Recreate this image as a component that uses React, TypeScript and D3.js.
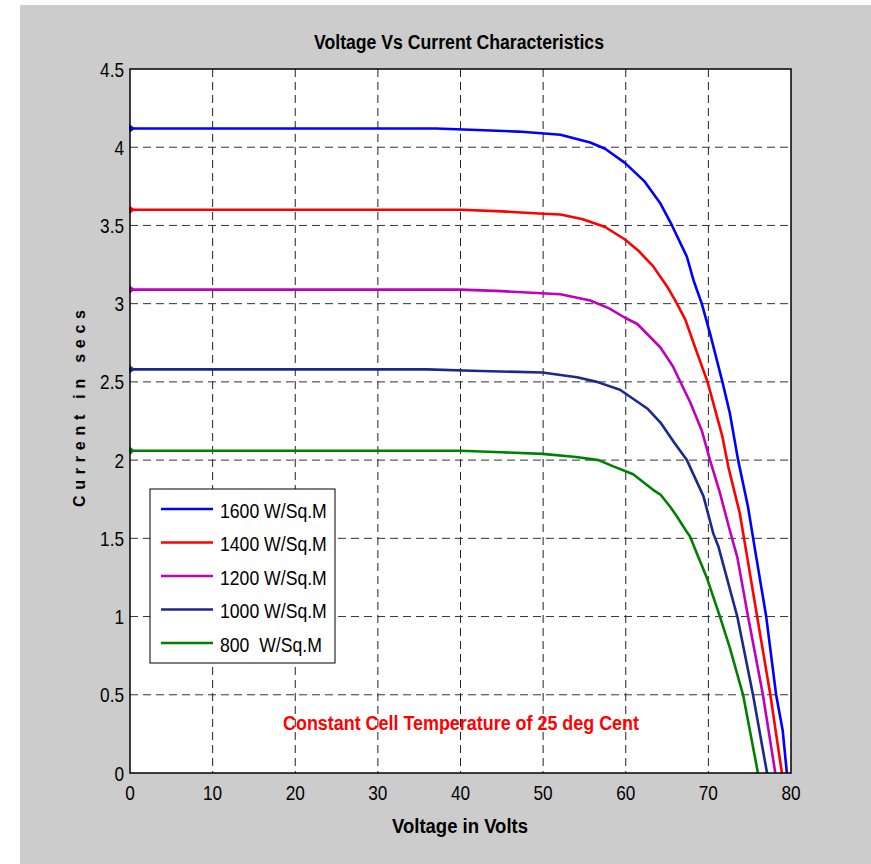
import React from "react";
import * as d3 from "d3";

// ---- data ----
const xTicks = [0, 10, 20, 30, 40, 50, 60, 70, 80];
const yTicks = [0, 0.5, 1, 1.5, 2, 2.5, 3, 3.5, 4, 4.5];
const yTickLabels = ["0", "0.5", "1", "1.5", "2", "2.5", "3", "3.5", "4", "4.5"];

const v1600 = [0, 10, 20, 30, 37, 42, 47, 52.1, 55.7, 57.5, 59.9, 62.3, 64.2, 65.6, 67.4, 68.2, 69.2, 70.2, 71.7, 72.6, 73.6, 74.8, 75.7, 77.0, 78.2, 79.0, 79.5];
const i1600 = [4.12, 4.12, 4.12, 4.12, 4.12, 4.11, 4.10, 4.08, 4.03, 3.99, 3.90, 3.78, 3.64, 3.50, 3.30, 3.15, 3.00, 2.81, 2.50, 2.30, 2.00, 1.70, 1.41, 1.00, 0.50, 0.27, 0];

const v1400 = [0, 10, 20, 30, 40, 45, 50, 52.1, 54.8, 57.5, 59.9, 61.5, 63.3, 65.0, 66.0, 67.2, 68.4, 69.9, 71.7, 72.4, 73.8, 74.7, 75.9, 77.5, 78.9];
const i1400 = [3.60, 3.60, 3.60, 3.60, 3.60, 3.59, 3.575, 3.57, 3.54, 3.49, 3.41, 3.34, 3.24, 3.11, 3.02, 2.90, 2.72, 2.50, 2.15, 1.96, 1.66, 1.38, 1.00, 0.50, 0];

const v1200 = [0, 10, 20, 30, 40, 45, 52.1, 55.7, 58, 59.9, 61.4, 64.2, 65.7, 67.8, 69.2, 70.2, 71.4, 72.6, 73.5, 74.8, 76.6, 78.1];
const i1200 = [3.09, 3.09, 3.09, 3.09, 3.09, 3.08, 3.06, 3.02, 2.97, 2.91, 2.87, 2.72, 2.60, 2.37, 2.19, 2.00, 1.79, 1.55, 1.38, 1.00, 0.50, 0];

const v1000 = [0, 10, 20, 30, 36, 42.4, 49.9, 54.1, 56.5, 59.3, 62.6, 64.2, 65.9, 67.4, 69.4, 70.6, 71.2, 73.5, 75.4, 77.1];
const i1000 = [2.58, 2.58, 2.58, 2.58, 2.58, 2.57, 2.56, 2.53, 2.50, 2.45, 2.33, 2.24, 2.11, 2.00, 1.77, 1.53, 1.45, 1.00, 0.50, 0];

const v800 = [0, 10, 20, 30, 40, 45, 49.9, 54, 56.7, 58.5, 60.9, 63.3, 64.2, 65.4, 66.2, 67.4, 67.8, 68.4, 69.8, 71.4, 72.6, 74.2, 76.0];
const i800 = [2.06, 2.06, 2.06, 2.06, 2.06, 2.05, 2.04, 2.02, 2.00, 1.96, 1.91, 1.81, 1.78, 1.70, 1.64, 1.54, 1.51, 1.43, 1.25, 1.00, 0.80, 0.50, 0];

const seriesLabels = ["1600 W/Sq.M", "1400 W/Sq.M", "1200 W/Sq.M", "1000 W/Sq.M", "800  W/Sq.M"];
const seriesColors = ["#0000ff", "#ff0000", "#bf00bf", "#1a2a8c", "#008000"];
const seriesV = [v1600, v1400, v1200, v1000, v800];
const seriesI = [i1600, i1400, i1200, i1000, i800];

// ---- layout ----
const W = 871;
const H = 864;
const L = 130, R = 791, T = 69, B = 773;
const FONT = "'Liberation Sans', Arial, Helvetica, sans-serif";

function NText(props: any) {
  const { x, y, sx = 0.82, anchor = "start", size = 21, weight = "normal", fill = "#000", children } = props;
  return (
    <text
      transform={`translate(${x},${y}) scale(${sx},1)`}
      textAnchor={anchor}
      fontSize={size}
      fontWeight={weight}
      fill={fill}
      fontFamily={FONT}
      style={{ whiteSpace: "pre" }}
    >
      {children}
    </text>
  );
}

export default function App() {
  const x = d3.scaleLinear().domain([0, 80]).range([L, R]);
  const y = d3.scaleLinear().domain([0, 4.5]).range([B, T]);
  const line = d3
    .line<[number, number]>()
    .x((d) => x(d[0]))
    .y((d) => y(d[1]))
    .curve(d3.curveLinear);

  const legendX = 150, legendY = 489, legendW = 185, legendH = 174;

  return (
    <svg width={W} height={H} style={{ position: "absolute", left: 0, top: 0 }}>
      <rect x={0} y={0} width={W} height={H} fill="#ffffff" />
      <rect x={20} y={5} width={W - 20} height={H - 5} fill="#cccccc" />
      <rect x={L} y={T} width={R - L} height={B - T} fill="#ffffff" />

      {/* grid */}
      {xTicks.slice(1, -1).map((t) => (
        <line key={"gx" + t} x1={x(t)} x2={x(t)} y1={T} y2={B} stroke="#222" strokeWidth={1} strokeDasharray="8,5" />
      ))}
      {yTicks.slice(1, -1).map((t) => (
        <line key={"gy" + t} x1={L} x2={R} y1={y(t)} y2={y(t)} stroke="#333" strokeWidth={1} strokeDasharray="8,5" />
      ))}

      {/* curves */}
      {seriesV.map((vs, k) => {
        const pts: [number, number][] = vs.map((v, j) => [v, seriesI[k][j]]);
        return (
          <g key={"s" + k}>
            <path d={line(pts) || ""} fill="none" stroke={seriesColors[k]} strokeWidth={2.6} strokeLinejoin="round" />
            <path
              d={`M${x(0)},${y(pts[0][1]) - 4} L${x(0) - 1},${y(pts[0][1])} L${x(0)},${y(pts[0][1]) + 4} L${x(0) + 5},${y(pts[0][1])} Z`}
              fill={seriesColors[k]}
            />
          </g>
        );
      })}

      {/* axes frame */}
      <rect x={L} y={T} width={R - L} height={B - T} fill="none" stroke="#000" strokeWidth={1.5} />

      {/* tick labels */}
      {xTicks.map((t) => (
        <NText key={"xl" + t} x={x(t)} y={800} anchor="middle" sx={0.82}>
          {String(t)}
        </NText>
      ))}
      {yTicks.map((t, j) => (
        <NText key={"yl" + t} x={L - 6} y={y(t) + 7.5} anchor="end" sx={0.82}>
          {yTickLabels[j]}
        </NText>
      ))}

      {/* title and axis labels */}
      <text x={314} y={49} fontSize={20} fontWeight="bold" fontFamily={FONT}
        textLength={290} lengthAdjust="spacingAndGlyphs">
        Voltage Vs Current Characteristics
      </text>
      <text x={392} y={833} fontSize={20} fontWeight="bold" fontFamily={FONT} textLength={136} lengthAdjust="spacingAndGlyphs">
        Voltage in Volts
      </text>
      <text transform="translate(85,507) rotate(-90)" fontSize={16} fontWeight="bold" fontFamily={FONT} textLength={197} lengthAdjust="spacing">
        Current in secs
      </text>
      <text x={283} y={730} fontSize={20} fontWeight="bold" fontFamily={FONT} fill="#ff0000" textLength={356} lengthAdjust="spacingAndGlyphs">
        Constant Cell Temperature of 25 deg Cent
      </text>

      {/* legend */}
      <rect x={legendX} y={legendY} width={legendW} height={legendH} fill="#ffffff" stroke="#000" strokeWidth={1} />
      {seriesLabels.map((lab, k) => {
        const ry = 509 + k * 33.5;
        return (
          <g key={"lg" + k}>
            <line x1={161} x2={213} y1={ry} y2={ry} stroke={seriesColors[k]} strokeWidth={2.6} />
            <NText x={220} y={ry + 8.5} sx={0.84} size={21}>
              {lab}
            </NText>
          </g>
        );
      })}
    </svg>
  );
}
